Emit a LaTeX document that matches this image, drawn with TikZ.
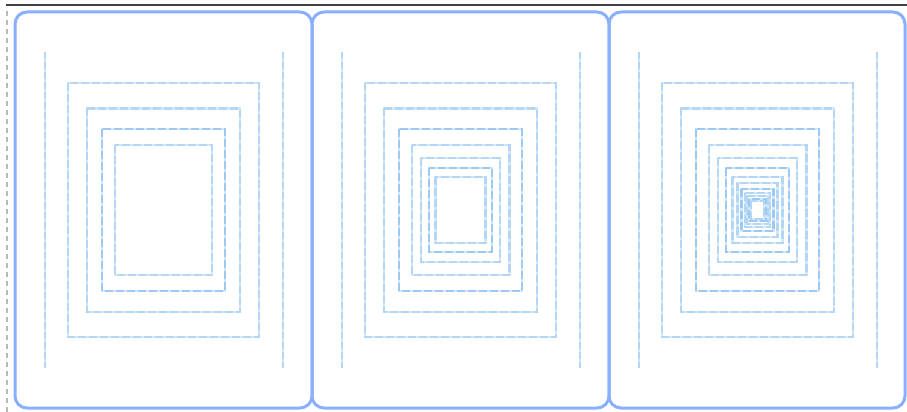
\documentclass[tikz,border=0pt]{standalone}
\definecolor{panelblue}{HTML}{8AAFFF}
\definecolor{rectblue}{HTML}{B2D6F4}
\definecolor{rectdark}{HTML}{9DC9F0}
\definecolor{rectpale}{HTML}{D2E8FA}
\begin{document}
\begin{tikzpicture}[x=1pt,y=-1pt,
  panelbox/.style={draw=panelblue,line width=3pt,rounded corners=12pt},
  guide/.style={draw=rectblue,line width=2pt,dash pattern=on 7pt off 3pt,
    preaction={draw=rectpale,line width=2pt,solid}},
  sqbox/.style={draw=rectblue,line width=2.2pt,dash pattern=on 8pt off 3pt,
    preaction={draw=rectpale,line width=2.2pt,solid}},
  sqdark/.style={sqbox,draw=rectdark}]
\useasboundingbox (0,0) rectangle (907,412);
\fill[white] (0,0) rectangle (907,412);
% frame lines
\draw[draw=black!75,line width=1.1pt] (6,5) -- (907,5);
\draw[draw=black!28,line width=1.4pt,dash pattern=on 5pt off 4pt] (7,11) -- (7,412);
% panels
\foreach \cx/\n in {163.5/4,460.5/7,757.5/13}{
  \draw[guide] (\cx-119,52) -- (\cx-119,368);
  \draw[guide] (\cx+119,52) -- (\cx+119,368);
  \pgfmathtruncatemacro\last{\n-1}
  \foreach \i in {0,...,\last}{
    \pgfmathsetmacro\s{0.8^\i}
    \pgfmathtruncatemacro\m{mod(\i,3)}
    \ifnum\m=2
      \draw[sqdark] (\cx-95.5*\s,210-127*\s) rectangle (\cx+95.5*\s,210+127*\s);
    \else
      \draw[sqbox] (\cx-95.5*\s,210-127*\s) rectangle (\cx+95.5*\s,210+127*\s);
    \fi
  }
}
\draw[panelbox] (15,12) rectangle (312,408);
\draw[panelbox] (312,12) rectangle (609,408);
\draw[panelbox] (609,12) rectangle (905,408);
\end{tikzpicture}
\end{document}
